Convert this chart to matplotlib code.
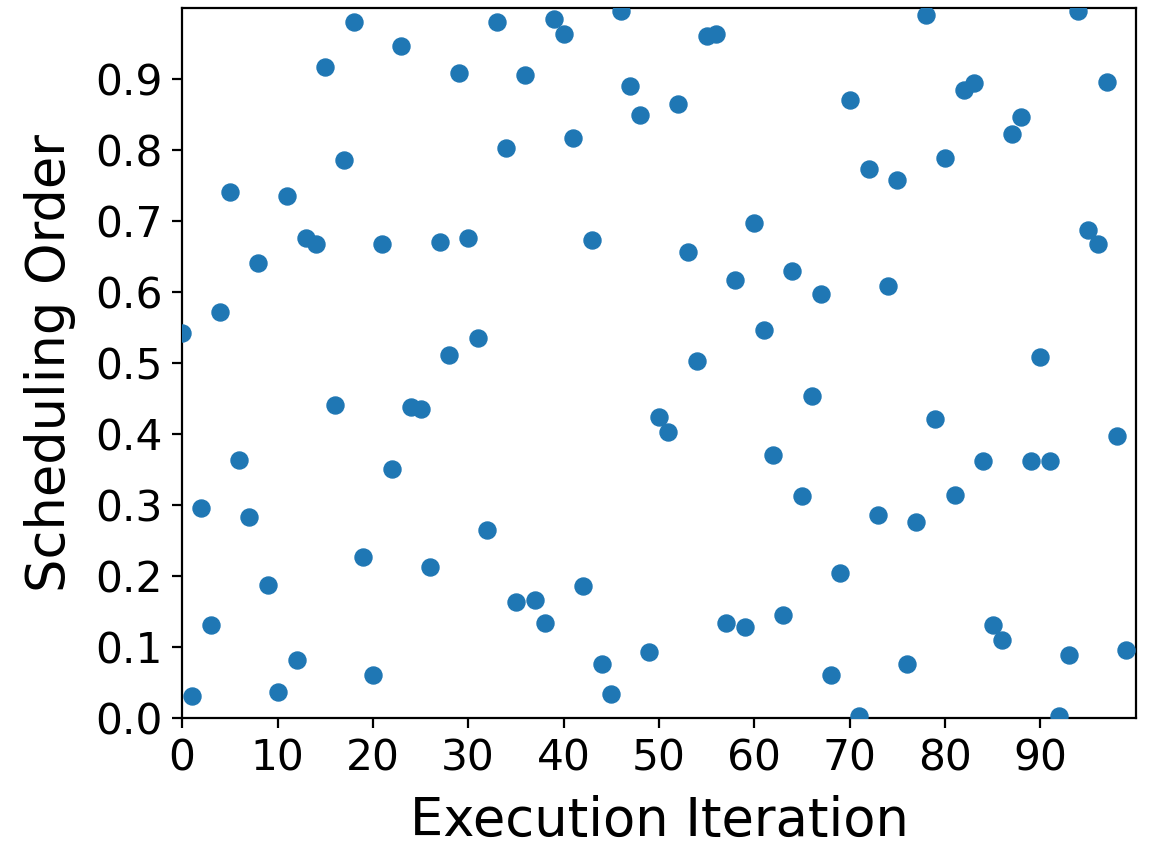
import numpy as np
import matplotlib
matplotlib.use("Agg")
from matplotlib import pyplot as plt

# Scheduling order per execution iteration
iterations = list(range(100))
order = [
    0.542, 0.031, 0.296, 0.131, 0.572, 0.741, 0.363, 0.283, 0.641, 0.187,
    0.037, 0.735, 0.082, 0.676, 0.668, 0.917, 0.441, 0.786, 0.980, 0.227,
    0.061, 0.668, 0.351, 0.946, 0.438, 0.435, 0.213, 0.670, 0.511, 0.908,
    0.676, 0.535, 0.265, 0.980, 0.803, 0.163, 0.906, 0.166, 0.134, 0.985,
    0.963, 0.817, 0.186, 0.673, 0.077, 0.034, 0.996, 0.890, 0.849, 0.093,
    0.424, 0.403, 0.865, 0.656, 0.503, 0.961, 0.963, 0.134, 0.617, 0.128,
    0.697, 0.546, 0.370, 0.145, 0.630, 0.313, 0.454, 0.597, 0.061, 0.204,
    0.870, 0.003, 0.773, 0.286, 0.608, 0.758, 0.077, 0.277, 0.990, 0.421,
    0.789, 0.315, 0.884, 0.894, 0.362, 0.131, 0.110, 0.822, 0.846, 0.362,
    0.508, 0.362, 0.003, 0.089, 0.996, 0.687, 0.668, 0.896, 0.397, 0.096,
]
xticks = np.arange(0, 100, 10)
yticks = np.arange(0, 1.0, 0.1)

fig = plt.figure(figsize=(11.53, 8.48), dpi=100)
ax = fig.add_axes([0.158, 0.153, 0.827, 0.8376])

ax.scatter(iterations, order, s=150, color="#1f77b4", zorder=3)

ax.set_xlim(0, 100)
ax.set_ylim(0, 1)
ax.set_xticks(xticks)
ax.set_yticks(yticks)
ax.set_yticklabels([f"{t:.1f}" for t in yticks])
ax.tick_params(labelsize=30.5, length=7, width=1.6, pad=7)
for sp in ax.spines.values():
    sp.set_linewidth(1.6)

ax.set_xlabel("Execution Iteration", fontsize=38, labelpad=11)
ax.set_ylabel("Scheduling Order", fontsize=38, labelpad=14)

fig.savefig("out.png", dpi=100)
